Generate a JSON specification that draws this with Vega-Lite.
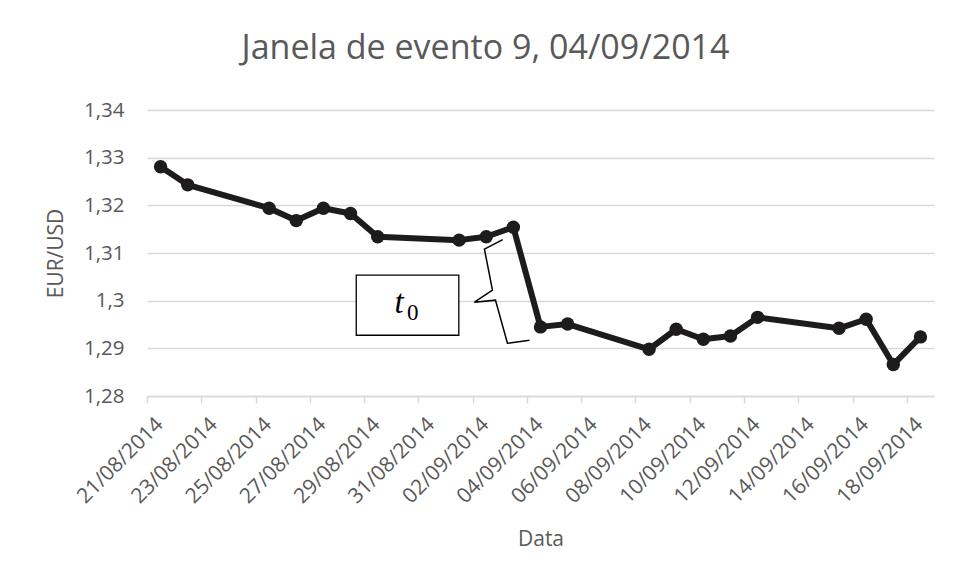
{
  "$schema": "https://vega.github.io/schema/vega-lite/v6.json",
  "autosize": {"type": "none"},
  "width": 787,
  "height": 286,
  "padding": {"left": 147, "top": 110, "right": 21, "bottom": 182},
  "background": "white",
  "config": {
    "view": {"stroke": null},
    "font": "Open Sans"
  },
  "title": {
    "text": "Janela de evento 9, 04/09/2014",
    "font": "Open Sans",
    "fontSize": 34,
    "fontWeight": "normal",
    "color": "#595959",
    "anchor": "middle",
    "frame": "group",
    "baseline": "alphabetic",
    "dx": -55,
    "offset": 7
  },
  "datasets": {
    "series": [
      {"date": "2014-08-21T00:00", "rate": 1.3281},
      {"date": "2014-08-22T00:00", "rate": 1.3243},
      {"date": "2014-08-25T00:00", "rate": 1.3194},
      {"date": "2014-08-26T00:00", "rate": 1.3168},
      {"date": "2014-08-27T00:00", "rate": 1.3194},
      {"date": "2014-08-28T00:00", "rate": 1.3183},
      {"date": "2014-08-29T00:00", "rate": 1.3134},
      {"date": "2014-09-01T00:00", "rate": 1.3127},
      {"date": "2014-09-02T00:00", "rate": 1.3134},
      {"date": "2014-09-03T00:00", "rate": 1.3154},
      {"date": "2014-09-04T00:00", "rate": 1.2945},
      {"date": "2014-09-05T00:00", "rate": 1.2951},
      {"date": "2014-09-08T00:00", "rate": 1.2898},
      {"date": "2014-09-09T00:00", "rate": 1.2940},
      {"date": "2014-09-10T00:00", "rate": 1.2919},
      {"date": "2014-09-11T00:00", "rate": 1.2926},
      {"date": "2014-09-12T00:00", "rate": 1.2965},
      {"date": "2014-09-15T00:00", "rate": 1.2942},
      {"date": "2014-09-16T00:00", "rate": 1.2961},
      {"date": "2014-09-17T00:00", "rate": 1.2866},
      {"date": "2014-09-18T00:00", "rate": 1.2924}
    ],
    "box": [
      {"start": "2014-08-28T05:03", "end": "2014-08-31T23:45", "low": 1.29275, "high": 1.30536}
    ],
    "labelT": [
      {"date": "2014-08-29T18:52", "rate": 1.29737, "txt": "t"}
    ],
    "labelSub": [
      {"date": "2014-08-30T06:58", "rate": 1.29590, "txt": "0"}
    ],
    "brace": [
      {"i": 1, "date": "2014-09-02T14:36", "rate": 1.31282},
      {"i": 2, "date": "2014-09-01T22:25", "rate": 1.31082},
      {"i": 3, "date": "2014-09-02T05:30", "rate": 1.30220},
      {"i": 4, "date": "2014-09-01T13:35", "rate": 1.29968},
      {"i": 5, "date": "2014-09-02T08:10", "rate": 1.30011},
      {"i": 6, "date": "2014-09-02T18:46", "rate": 1.29107},
      {"i": 7, "date": "2014-09-03T14:13", "rate": 1.29170}
    ]
  },
  "layer": [
    {
      "data": {"name": "series"},
      "mark": {"type": "line", "color": "#1d1b1b", "strokeWidth": 6, "strokeJoin": "round"},
      "encoding": {
        "x": {
          "field": "date",
          "type": "temporal",
          "scale": {
            "domain": [
              {"year": 2014, "month": 8, "date": 20, "hours": 12},
              {"year": 2014, "month": 9, "date": 18, "hours": 12}
            ]
          },
          "axis": {
            "title": "Data",
            "titleFont": "Open Sans",
            "titleFontSize": 21,
            "titleFontWeight": "normal",
            "titleColor": "#595959",
            "titlePadding": 22,
            "values": [
              {"year": 2014, "month": 8, "date": 20, "hours": 12},
              {"year": 2014, "month": 8, "date": 22, "hours": 12},
              {"year": 2014, "month": 8, "date": 24, "hours": 12},
              {"year": 2014, "month": 8, "date": 26, "hours": 12},
              {"year": 2014, "month": 8, "date": 28, "hours": 12},
              {"year": 2014, "month": 8, "date": 30, "hours": 12},
              {"year": 2014, "month": 9, "date": 1, "hours": 12},
              {"year": 2014, "month": 9, "date": 3, "hours": 12},
              {"year": 2014, "month": 9, "date": 5, "hours": 12},
              {"year": 2014, "month": 9, "date": 7, "hours": 12},
              {"year": 2014, "month": 9, "date": 9, "hours": 12},
              {"year": 2014, "month": 9, "date": 11, "hours": 12},
              {"year": 2014, "month": 9, "date": 13, "hours": 12},
              {"year": 2014, "month": 9, "date": 15, "hours": 12},
              {"year": 2014, "month": 9, "date": 17, "hours": 12}
            ],
            "labelExpr": "timeFormat(time(datum.value) + 43200000, '%d/%m/%Y')",
            "labelOffset": 12.5,
            "labelAngle": -45,
            "labelAlign": "right",
            "labelBaseline": "middle",
            "labelPadding": 18,
            "labelFont": "Open Sans",
            "labelFontSize": 21,
            "labelColor": "#595959",
            "labelOverlap": false,
            "labelBound": false,
            "labelFlush": false,
            "tickSize": 7,
            "tickColor": "#d9d9d9",
            "tickWidth": 1.5,
            "domainColor": "#d9d9d9",
            "domainWidth": 1.5,
            "grid": false
          }
        },
        "y": {
          "field": "rate",
          "type": "quantitative",
          "scale": {"domain": [1.28, 1.34], "zero": false, "nice": false},
          "axis": {
            "title": "EUR/USD",
            "titleFont": "Open Sans",
            "titleFontSize": 21,
            "titleFontWeight": "normal",
            "titleColor": "#595959",
            "titlePadding": 17,
            "values": [1.28, 1.29, 1.3, 1.31, 1.32, 1.33, 1.34],
            "labelExpr": "replace(toString(round(datum.value * 100) / 100), '.', ',')",
            "labelFont": "Open Sans",
            "labelFontSize": 20.5,
            "labelColor": "#595959",
            "labelPadding": 23,
            "ticks": false,
            "domain": false,
            "grid": true,
            "gridColor": "#d9d9d9",
            "gridWidth": 1.5
          }
        }
      }
    },
    {
      "data": {"name": "series"},
      "mark": {"type": "point", "filled": true, "opacity": 1, "color": "#1d1b1b", "size": 180},
      "encoding": {
        "x": {"field": "date", "type": "temporal"},
        "y": {"field": "rate", "type": "quantitative"}
      }
    },
    {
      "data": {"name": "box"},
      "mark": {"type": "rect", "fill": "white", "stroke": "#000000", "strokeWidth": 1.3},
      "encoding": {
        "x": {"field": "start", "type": "temporal"},
        "x2": {"field": "end"},
        "y": {"field": "low", "type": "quantitative"},
        "y2": {"field": "high"}
      }
    },
    {
      "data": {"name": "labelT"},
      "mark": {"type": "text", "font": "Liberation Serif", "fontStyle": "italic", "fontSize": 33, "baseline": "alphabetic", "align": "center", "color": "#000000"},
      "encoding": {
        "x": {"field": "date", "type": "temporal"},
        "y": {"field": "rate", "type": "quantitative"},
        "text": {"field": "txt"}
      }
    },
    {
      "data": {"name": "labelSub"},
      "mark": {"type": "text", "font": "Liberation Serif", "fontSize": 23, "baseline": "alphabetic", "align": "center", "color": "#000000"},
      "encoding": {
        "x": {"field": "date", "type": "temporal"},
        "y": {"field": "rate", "type": "quantitative"},
        "text": {"field": "txt"}
      }
    },
    {
      "data": {"name": "brace"},
      "mark": {"type": "line", "color": "#000000", "strokeWidth": 1.5, "strokeJoin": "miter"},
      "encoding": {
        "x": {"field": "date", "type": "temporal"},
        "y": {"field": "rate", "type": "quantitative"},
        "order": {"field": "i"}
      }
    }
  ]
}
